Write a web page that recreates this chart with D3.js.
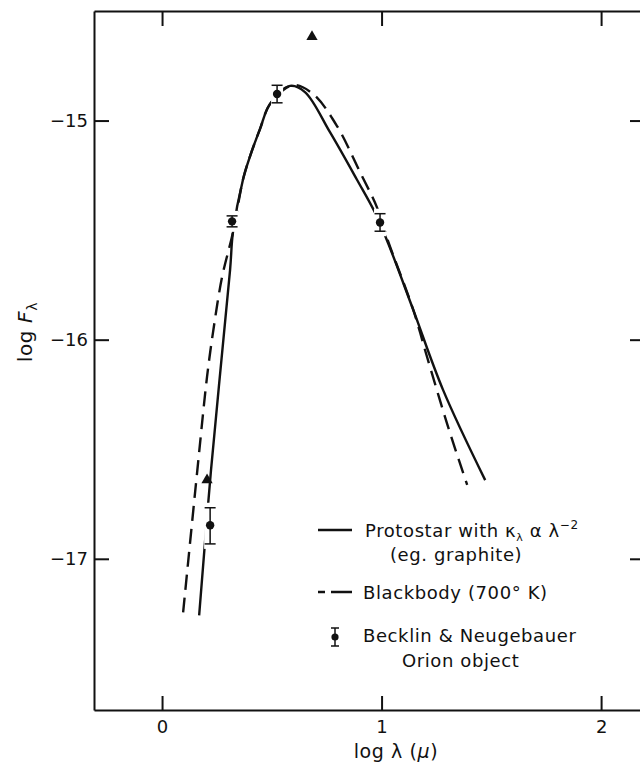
<!DOCTYPE html>
<meta charset="utf-8">
<style>
body { margin: 0; background: #fff; }
svg { display: block; }
.axis path, .axis line { stroke: #111; stroke-width: 2px; }
.axis text { font: 18px "DejaVu Sans", sans-serif; fill: #111; }
.curve { fill: none; stroke: #111; stroke-width: 2.4px; }
.dashed { stroke-dasharray: 15 8; }
.lbl { font: 18px "DejaVu Sans", sans-serif; fill: #111; letter-spacing: 0.6px; }
</style>
<svg width="640" height="765"></svg>
<script src="https://cdn.jsdelivr.net/npm/d3@7"></script>
<script>
// protostar model, kappa ~ lambda^-2 (log lambda, log F)
var protoX = [0.169, 0.223, 0.310, 0.323, 0.369, 0.401, 0.446, 0.492, 0.583, 0.651, 0.765, 0.888, 0.970, 1.030, 1.144, 1.280, 1.472];
var protoY = [-17.258, -16.595, -15.680, -15.510, -15.268, -15.162, -15.039, -14.924, -14.842, -14.870, -15.053, -15.270, -15.420, -15.560, -15.863, -16.229, -16.641];

// blackbody 700 K
var bbX = [0.096, 0.164, 0.205, 0.232, 0.273, 0.323, 0.369, 0.401, 0.446, 0.492, 0.597, 0.688, 0.797, 0.902, 0.979, 1.030, 1.144, 1.207, 1.303, 1.390];
var bbY = [-17.245, -16.563, -16.169, -15.968, -15.716, -15.510, -15.268, -15.162, -15.039, -14.924, -14.838, -14.879, -15.025, -15.236, -15.396, -15.551, -15.863, -16.078, -16.398, -16.663];

// Becklin & Neugebauer points with error bars
var bnX = [0.219, 0.319, 0.524, 0.993];
var bnY = [-16.847, -15.460, -14.879, -15.465];
var bnErrLo = [0.085, 0.025, 0.04, 0.04];
var bnErrHi = [0.080, 0.025, 0.04, 0.04];

// triangles
var triX = [0.205, 0.683];
var triY = [-16.64, -14.618];

var xTicks = [0, 1, 2];
var yTicks = [-15, -16, -17];

var svg = d3.select("svg"),
    margin = {top: 11, left: 94},
    width = 551,
    height = 699;

var x = d3.scaleLinear().domain([-0.31, 2.2]).range([margin.left, margin.left + width]),
    y = d3.scaleLinear().domain([-17.69, -14.5]).range([margin.top + height, margin.top]);

function fmt(d) { return d < 0 ? "\u2212" + Math.abs(d) : "" + d; }

svg.append("g")
    .attr("class", "axis")
    .attr("transform", "translate(0," + (margin.top + height) + ")")
    .call(d3.axisBottom(x).tickValues(xTicks).tickSizeInner(-14).tickSizeOuter(0).tickPadding(10).tickFormat(fmt));

svg.append("g")
    .attr("class", "axis")
    .attr("transform", "translate(0," + margin.top + ")")
    .call(d3.axisTop(x).tickValues(xTicks).tickSizeInner(-15).tickSizeOuter(0).tickFormat(""));

svg.append("g")
    .attr("class", "axis")
    .attr("transform", "translate(" + margin.left + ",0)")
    .call(d3.axisLeft(y).tickValues(yTicks).tickSizeInner(-15).tickSizeOuter(0).tickPadding(6).tickFormat(fmt));

svg.append("g")
    .attr("class", "axis")
    .attr("transform", "translate(" + (margin.left + width) + ",0)")
    .call(d3.axisRight(y).tickValues(yTicks).tickSizeInner(-15).tickSizeOuter(0).tickFormat(""));

svg.selectAll(".axis .tick text").attr("fill", "#111");

var line = d3.line()
    .curve(d3.curveCatmullRom.alpha(0.5))
    .x(function(d) { return x(d[0]); })
    .y(function(d) { return y(d[1]); });

svg.append("path")
    .attr("class", "curve")
    .attr("d", line(d3.zip(protoX, protoY)));

svg.append("path")
    .attr("class", "curve dashed")
    .attr("d", line(d3.zip(bbX, bbY)));

// data points (white box behind each to break the curves like the original)
var pts = bnX.map(function(v, i) { return {x: v, y: bnY[i], lo: bnY[i] - bnErrLo[i], hi: bnY[i] + bnErrHi[i]}; });

var pt = svg.selectAll(".pt")
    .data(pts)
    .enter().append("g")
      .attr("class", "pt");

pt.append("rect")
    .attr("x", function(d) { return x(d.x) - 6; })
    .attr("y", function(d) { return y(d.hi) - 5; })
    .attr("width", 12)
    .attr("height", function(d) { return y(d.lo) - y(d.hi) + 10; })
    .attr("fill", "#fff");

pt.append("line")
    .attr("x1", function(d) { return x(d.x); })
    .attr("x2", function(d) { return x(d.x); })
    .attr("y1", function(d) { return y(d.hi); })
    .attr("y2", function(d) { return y(d.lo); })
    .attr("stroke", "#111").attr("stroke-width", 1.5);

pt.selectAll(".cap")
    .data(function(d) { return [{x: d.x, v: d.hi}, {x: d.x, v: d.lo}]; })
    .enter().append("line")
      .attr("x1", function(d) { return x(d.x) - 5.5; })
      .attr("x2", function(d) { return x(d.x) + 5.5; })
      .attr("y1", function(d) { return y(d.v); })
      .attr("y2", function(d) { return y(d.v); })
      .attr("stroke", "#111").attr("stroke-width", 1.5);

pt.append("circle")
    .attr("cx", function(d) { return x(d.x); })
    .attr("cy", function(d) { return y(d.y); })
    .attr("r", 4.2)
    .attr("fill", "#111");

svg.selectAll(".tri")
    .data(d3.zip(triX, triY))
    .enter().append("path")
      .attr("class", "tri")
      .attr("transform", function(d) { return "translate(" + x(d[0]) + "," + y(d[1]) + ")"; })
      .attr("d", d3.symbol(d3.symbolTriangle).size(55))
      .attr("fill", "#111");

// axis titles
var yt = svg.append("text")
    .attr("class", "lbl")
    .attr("transform", "translate(32,332) rotate(-90)")
    .attr("text-anchor", "middle")
    .style("font-size", "20px");
yt.append("tspan").text("log ");
yt.append("tspan").attr("font-style", "italic").text("F");
yt.append("tspan").attr("dy", 5).attr("font-size", 14).text("\u03bb");

var xt = svg.append("text")
    .attr("class", "lbl")
    .attr("x", 396).attr("y", 758)
    .attr("text-anchor", "middle")
    .style("font-size", "19px");
xt.append("tspan").text("log \u03bb (");
xt.append("tspan").attr("font-style", "italic").text("\u03bc");
xt.append("tspan").text(")");

// legend
var lg = svg.append("g");

lg.append("line").attr("class", "curve")
    .attr("x1", 318).attr("x2", 352).attr("y1", 530).attr("y2", 530);
var t1 = lg.append("text").attr("class", "lbl").attr("x", 365).attr("y", 537);
t1.append("tspan").text("Protostar with \u03ba");
t1.append("tspan").attr("dy", 4).attr("font-size", 11).text("\u03bb");
t1.append("tspan").attr("dy", -4).text(" \u03b1 \u03bb");
t1.append("tspan").attr("dy", -8).attr("font-size", 12).text("\u22122");
lg.append("text").attr("class", "lbl").attr("x", 390).attr("y", 561).text("(eg. graphite)");

lg.append("line").attr("class", "curve")
    .attr("x1", 318).attr("x2", 352).attr("y1", 592).attr("y2", 592)
    .style("stroke-dasharray", "7 6 30");
lg.append("text").attr("class", "lbl").attr("x", 363).attr("y", 599).text("Blackbody (700\u00b0 K)");

lg.append("line").attr("x1", 335).attr("x2", 335).attr("y1", 628).attr("y2", 646)
    .attr("stroke", "#111").attr("stroke-width", 1.5);
lg.append("line").attr("x1", 331).attr("x2", 339).attr("y1", 628).attr("y2", 628)
    .attr("stroke", "#111").attr("stroke-width", 1.5);
lg.append("line").attr("x1", 331).attr("x2", 339).attr("y1", 646).attr("y2", 646)
    .attr("stroke", "#111").attr("stroke-width", 1.5);
lg.append("circle").attr("cx", 335).attr("cy", 637).attr("r", 3.6).attr("fill", "#111");
lg.append("text").attr("class", "lbl").attr("x", 363).attr("y", 642).text("Becklin & Neugebauer");
lg.append("text").attr("class", "lbl").attr("x", 402).attr("y", 667).text("Orion object");
</script>
